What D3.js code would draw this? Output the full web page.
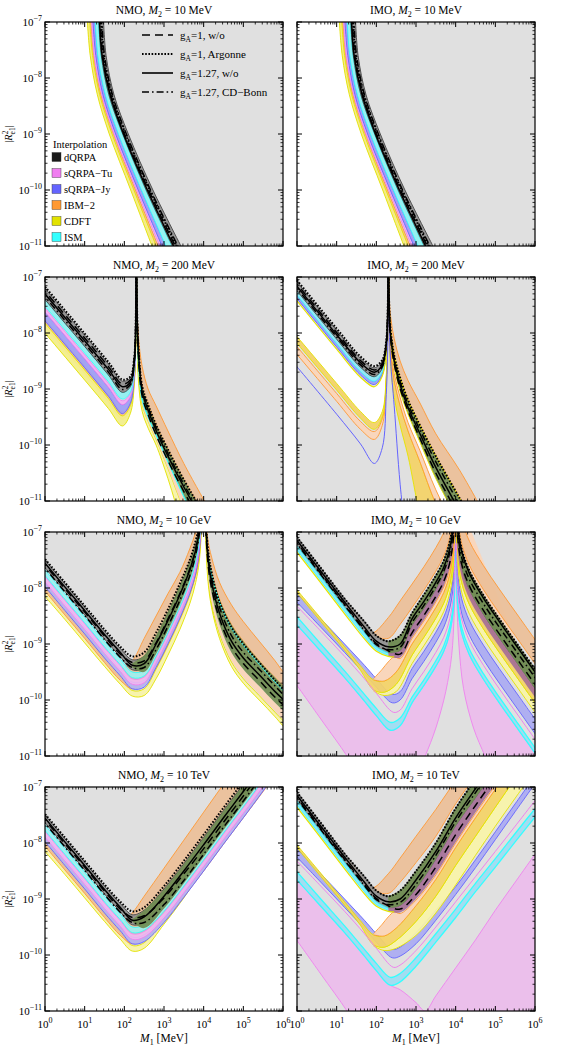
<!DOCTYPE html>
<html><head><meta charset="utf-8">
<script src="https://cdn.jsdelivr.net/npm/d3@7"></script>
<style>body{margin:0;background:#fff}svg{display:block;font-family:"Liberation Serif","DejaVu Serif",serif}</style>
</head><body><script>
// ---------------- DATA (x = log10 M1/MeV, y = log10 |R^2_e1|) ----------------
const orderings = ['NMO','IMO'];
const massLabels = ['10 MeV','200 MeV','10 GeV','10 TeV'];
const xTickExp = [0,1,2,3,4,5,6];
const yTickExp = [-7,-8,-9,-10,-11];
const models = ['dQRPA','sQRPA\u2212Tu','sQRPA\u2212Jy','IBM\u22122','CDFT','ISM'];
const modelColors = ['#1a1a1a','#f07ef0','#6464ff','#ff9933','#e2e200','#33ffff'];
const legendStyles = ['dash','dot','solid','dashdot'];
const legendGA = ['1','1','1.27','1.27'];
const legendSRC = ['w/o','Argonne','w/o','CD\u2212Bonn'];

// Panel M2 = 10 MeV (curves given as x at fixed y levels)
const p1_y = [-6.9,-7.6,-8.3,-9.0,-10.0,-11.1];
const p1_cdftLo = [1.06,1.14,1.32,1.62,2.16,2.75];
const p1_cdftHi = [1.12,1.20,1.38,1.69,2.24,2.86];
const p1_ibmLo = [1.08,1.16,1.35,1.65,2.19,2.80];
const p1_ibmHi = [1.15,1.23,1.41,1.73,2.28,2.91];
const p1_tuLo = [1.17,1.24,1.43,1.74,2.31,2.95];
const p1_tuHi = [1.22,1.30,1.49,1.81,2.38,3.05];
const p1_jyLo = [1.20,1.28,1.46,1.78,2.35,3.01];
const p1_jyHi = [1.26,1.33,1.52,1.85,2.43,3.11];
const p1_ismLo = [1.26,1.33,1.52,1.85,2.43,3.11];
const p1_ismHi = [1.34,1.41,1.61,1.95,2.54,3.26];
const p1_dqLo = [1.35,1.42,1.61,1.96,2.55,3.28];
const p1_dqHi = [1.47,1.54,1.74,2.10,2.72,3.50];
const p1_solid = [1.37,1.44,1.64,1.98,2.58,3.31];
const p1_dash = [1.39,1.46,1.66,2.00,2.61,3.35];
const p1_dot = [1.41,1.48,1.68,2.03,2.64,3.39];
const p1_dashdot = [1.43,1.50,1.70,2.05,2.66,3.42];

// NMO, M2 = 200 MeV
const p3_xL = [-0.1,1.0,1.6,1.95,2.15,2.25,2.29,2.305];
const p3_dqHi = [-7.12,-8.04,-8.55,-8.86,-8.8,-8.45,-7.7,-6.0];
const p3_dqLo = [-7.32,-8.24,-8.75,-9.06,-8.96,-8.57,-7.77,-6.0];
const p3_ismLo = [-7.44,-8.36,-8.87,-9.18,-9.06,-8.64,-7.81,-6.0];
const p3_tuHi = [-7.47,-8.39,-8.9,-9.21,-9.08,-8.66,-7.82,-6.0];
const p3_tuLo = [-7.54,-8.46,-8.97,-9.28,-9.14,-8.7,-7.85,-6.0];
const p3_jyLo = [-7.7,-8.62,-9.13,-9.44,-9.26,-8.8,-7.9,-6.0];
const p3_ibmHi = [-7.67,-8.59,-9.1,-9.41,-9.24,-8.78,-7.89,-6.0];
const p3_ibmLo = [-7.8,-8.72,-9.23,-9.54,-9.34,-8.86,-7.94,-6.0];
const p3_cdftHi = [-7.74,-8.66,-9.17,-9.48,-9.3,-8.82,-7.92,-6.0];
const p3_cdftLo = [-7.92,-8.84,-9.35,-9.66,-9.44,-8.93,-7.98,-6.0];
const p3_solidL = [-7.22,-8.14,-8.65,-8.96,-8.88,-8.51,-7.74,-6.0];
const p3_dotL = [-7.09,-8.01,-8.52,-8.83,-8.78,-8.43,-7.69,-6.0];
const p3_dashL = [-7.17,-8.09,-8.6,-8.91,-8.84,-8.48,-7.72,-6.0];
const p3_dashdotL = [-7.27,-8.19,-8.7,-9.01,-8.92,-8.54,-7.75,-6.0];
const p3_xR = [2.305,2.32,2.36,2.45,2.6,2.8,3.1,3.5,4.1];
const p3_rA = [-6.0,-8.0,-8.9,-9.4,-9.7,-10.0,-10.6,-11.5,-12.5];
const p3_rB = [-6.0,-7.9,-8.75,-9.28,-9.58,-9.9,-10.42,-11.15,-12.1];
const p3_rC = [-6.0,-7.8,-8.6,-9.2,-9.5,-9.82,-10.3,-10.92,-11.8];
const p3_rD = [-6.0,-7.6,-8.4,-9.05,-9.38,-9.74,-10.2,-10.75,-11.5];
const p3_rE = [-6.0,-7.55,-8.3,-8.95,-9.28,-9.64,-10.08,-10.62,-11.35];
const p3_rF = [-6.0,-7.5,-8.1,-8.6,-9.0,-9.3,-9.75,-10.33,-11.1];
const p3_dashR = [-6.0,-7.68,-8.48,-9.13,-9.46,-9.82,-10.28,-10.83,-11.58];
const p3_dashdotR = [-6.0,-7.57,-8.35,-9.0,-9.33,-9.69,-10.15,-10.7,-11.45];

// IMO, M2 = 200 MeV
const p4_xL = [-0.1,1.0,1.6,1.95,2.15,2.25,2.29,2.305];
const p4_dqHi = [-7.0,-7.95,-8.45,-8.62,-8.5,-8.15,-7.5,-6.0];
const p4_dqLo = [-7.16,-8.11,-8.61,-8.78,-8.63,-8.25,-7.56,-6.0];
const p4_ismLo = [-7.24,-8.19,-8.69,-8.86,-8.69,-8.29,-7.58,-6.0];
const p4_jyLo = [-7.3,-8.25,-8.75,-8.92,-8.74,-8.33,-7.6,-6.0];
const p4_topY = [-7.34,-8.29,-8.79,-8.96,-8.77,-8.35,-7.62,-6.0];
const p4_dotL = [-6.97,-7.92,-8.42,-8.59,-8.48,-8.13,-7.49,-6.0];
const p4_solidL = [-7.08,-8.03,-8.53,-8.7,-8.57,-8.2,-7.53,-6.0];
const p4_dashL = [-7.04,-7.99,-8.49,-8.66,-8.54,-8.18,-7.52,-6.0];
const p4_dashdotL = [-7.12,-8.07,-8.57,-8.74,-8.6,-8.22,-7.55,-6.0];
const p4_cdftHi = [-7.98,-8.9,-9.4,-9.6,-9.4,-8.75,-7.9,-6.0];
const p4_cdftLo = [-8.1,-9.02,-9.52,-9.72,-9.5,-8.82,-7.94,-6.0];
const p4_ibmHi = [-8.16,-9.08,-9.58,-9.76,-9.53,-8.84,-7.95,-6.0];
const p4_ibmLo = [-8.3,-9.22,-9.72,-9.9,-9.65,-8.92,-7.99,-6.0];
const p4_jyLine = [-8.52,-9.45,-9.98,-10.33,-10.05,-9.1,-8.1,-6.0];
const p4_xR = [2.305,2.32,2.36,2.45,2.6,2.8,3.1,3.5,4.1,4.7];
const p4_rF = [-6.0,-7.2,-7.7,-8.1,-8.5,-8.85,-9.25,-9.8,-10.45,-11.2];
const p4_rE = [-6.0,-7.4,-7.95,-8.4,-8.8,-9.2,-9.65,-10.2,-10.95,-11.7];
const p4_rD = [-6.0,-7.55,-8.15,-8.6,-9.05,-9.45,-9.95,-10.6,-11.4,-12.2];
const p4_rW = [-6.0,-7.6,-8.25,-8.72,-9.15,-9.6,-10.1,-10.8,-11.65,-12.4];
const p4_rLO = [-6.0,-7.7,-8.35,-8.85,-9.3,-9.75,-10.3,-11.05,-11.9,-12.7];
const p4_rYL = [-6.0,-7.9,-8.6,-9.15,-9.65,-10.2,-11.25,-12.3,-13.3,-14.0];
const p4_solidR = [-6.0,-7.48,-8.05,-8.5,-8.93,-9.33,-9.8,-10.4,-11.18,-11.95];
const p4_dashR = [-6.0,-7.52,-8.1,-8.55,-8.99,-9.39,-9.88,-10.5,-11.29,-12.08];
const p4_dashdotR = [-6.0,-7.44,-8.0,-8.45,-8.87,-9.27,-9.73,-10.3,-11.07,-11.83];
const p4_jyR = [[2.305,-6.0],[2.32,-7.8],[2.36,-8.5],[2.45,-9.3],[2.6,-10.7],[2.8,-12.0]];

// NMO, M2 = 10 GeV
const p5_xL = [-0.1,0.5,1.0,1.5,1.9,2.2,2.5,2.8,3.1,3.4,3.65,3.8,3.9,3.99];
const p5_S = [-7.47,-7.98,-8.4,-8.83,-9.15,-9.38,-9.35,-9.0,-8.58,-8.12,-7.68,-7.32,-6.92,-6.0];
const p5_dqHi = [-7.42,-7.92,-8.34,-8.77,-9.08,-9.28,-9.22,-8.88,-8.45,-7.98,-7.55,-7.2,-6.85,-6.0];
const p5_dqLo = [-7.55,-8.06,-8.48,-8.91,-9.23,-9.46,-9.43,-9.08,-8.66,-8.2,-7.76,-7.4,-6.98,-6.0];
const p5_ismHi = [-7.59,-8.1,-8.52,-8.95,-9.27,-9.5,-9.47,-9.12,-8.7,-8.24,-7.8,-7.44,-7.02,-6.0];
const p5_ismLo = [-7.69,-8.2,-8.62,-9.05,-9.37,-9.6,-9.57,-9.22,-8.8,-8.34,-7.9,-7.54,-7.1,-6.0];
const p5_tuHi = [-7.71,-8.22,-8.64,-9.07,-9.39,-9.62,-9.59,-9.24,-8.82,-8.36,-7.92,-7.56,-7.12,-6.0];
const p5_tuLo = [-7.81,-8.32,-8.74,-9.17,-9.49,-9.72,-9.69,-9.34,-8.92,-8.46,-8.02,-7.66,-7.2,-6.0];
const p5_jyHi = [-7.77,-8.28,-8.7,-9.13,-9.45,-9.68,-9.65,-9.3,-8.88,-8.42,-7.98,-7.62,-7.18,-6.0];
const p5_jyLo = [-7.89,-8.4,-8.82,-9.25,-9.57,-9.8,-9.77,-9.42,-9.0,-8.54,-8.1,-7.74,-7.28,-6.0];
const p5_ibmHi = [-7.85,-8.36,-8.78,-9.21,-9.45,-9.3,-8.9,-8.5,-8.1,-7.72,-7.3,-7.0,-6.7,-6.0];
const p5_ibmLo = [-7.97,-8.48,-8.9,-9.33,-9.65,-9.8,-9.72,-9.42,-9.0,-8.55,-8.1,-7.76,-7.3,-6.0];
const p5_cdftHi = [-7.92,-8.43,-8.85,-9.28,-9.6,-9.83,-9.8,-9.45,-9.03,-8.57,-8.13,-7.77,-7.37,-6.0];
const p5_cdftLo = [-8.07,-8.56,-8.98,-9.4,-9.72,-9.93,-9.92,-9.62,-9.2,-8.74,-8.28,-7.9,-7.45,-6.0];
const p5_dot = [-7.4,-7.9,-8.32,-8.74,-9.05,-9.22,-9.15,-8.8,-8.38,-7.92,-7.5,-7.15,-6.8,-6.0];
const p5_dash = [-7.5,-8.01,-8.43,-8.86,-9.18,-9.33,-9.3,-8.98,-8.55,-8.1,-7.66,-7.3,-6.9,-6.0];
const p5_dashdot = [-7.56,-8.07,-8.49,-8.92,-9.24,-9.42,-9.42,-9.1,-8.68,-8.22,-7.78,-7.4,-6.96,-6.0];
const p5_xG = [2.2,2.5,2.8,3.1,3.4,3.65,3.8,3.9,3.99];
const p5_greenHi = [-9.34,-9.2,-8.85,-8.42,-7.95,-7.52,-7.18,-6.84,-6.0];
const p5_greenLo = [-9.42,-9.5,-9.18,-8.76,-8.3,-7.85,-7.48,-7.05,-6.0];
const p5_xR = [4.01,4.1,4.2,4.4,4.7,5.0,5.4,5.8,6.1];
const p5_ibmHiR = [-6.0,-7.1,-7.45,-7.9,-8.3,-8.6,-8.95,-9.3,-9.6];
const p5_ibmLoR = [-6.0,-7.3,-7.7,-8.2,-8.65,-8.95,-9.3,-9.6,-9.82];
const p5_greenLoR = [-6.0,-7.6,-8.1,-8.65,-9.15,-9.45,-9.75,-10.05,-10.25];
const p5_lightLoR = [-6.0,-7.7,-8.25,-8.8,-9.3,-9.6,-9.9,-10.2,-10.42];
const p5_cdftHiR = [-6.0,-7.72,-8.28,-8.82,-9.32,-9.62,-9.92,-10.22,-10.44];
const p5_cdftLoR = [-6.0,-7.8,-8.35,-8.9,-9.4,-9.7,-10.0,-10.3,-10.55];
const p5_solidR = [-6.0,-7.4,-7.9,-8.45,-8.95,-9.25,-9.55,-9.85,-10.05];
const p5_dotR = [-6.0,-7.25,-7.72,-8.25,-8.7,-9.0,-9.33,-9.65,-9.88];
const p5_dashR = [-6.0,-7.5,-8.0,-8.55,-9.05,-9.35,-9.65,-9.95,-10.15];
const p5_dashdotR = [-6.0,-7.35,-7.82,-8.35,-8.85,-9.15,-9.45,-9.75,-9.97];
const p5_ismR = [-6.0,-7.32,-7.75,-8.25,-8.72,-9.02,-9.36,-9.68,-9.9];

// NMO, M2 = 10 TeV
const p7_x = [-0.1,0.5,1.0,1.5,1.9,2.2,2.5,3.0,3.5,4.0,4.5,5.0,5.5,6.1];
const p7_S = [-7.47,-7.98,-8.4,-8.83,-9.15,-9.38,-9.32,-8.95,-8.5,-8.03,-7.55,-7.08,-6.6,-6.0];
const p7_dqHi = [-7.42,-7.92,-8.34,-8.77,-9.08,-9.28,-9.2,-8.82,-8.37,-7.9,-7.42,-6.95,-6.47,-5.87];
const p7_dqLo = [-7.55,-8.06,-8.48,-8.91,-9.23,-9.46,-9.42,-9.08,-8.63,-8.16,-7.68,-7.21,-6.73,-6.13];
const p7_ismHi = [-7.59,-8.1,-8.52,-8.95,-9.27,-9.5,-9.46,-9.12,-8.67,-8.2,-7.72,-7.25,-6.77,-6.17];
const p7_ismLo = [-7.69,-8.2,-8.62,-9.05,-9.37,-9.6,-9.56,-9.22,-8.77,-8.3,-7.82,-7.35,-6.87,-6.27];
const p7_tuHi = [-7.71,-8.22,-8.64,-9.07,-9.39,-9.62,-9.58,-9.24,-8.79,-8.32,-7.84,-7.37,-6.89,-6.29];
const p7_tuLo = [-7.81,-8.32,-8.74,-9.17,-9.49,-9.72,-9.68,-9.34,-8.89,-8.42,-7.94,-7.47,-6.99,-6.39];
const p7_jyHi = [-7.77,-8.28,-8.7,-9.13,-9.45,-9.68,-9.64,-9.3,-8.85,-8.38,-7.9,-7.43,-6.95,-6.35];
const p7_jyLo = [-7.89,-8.4,-8.82,-9.25,-9.57,-9.8,-9.76,-9.42,-8.97,-8.5,-8.02,-7.55,-7.07,-6.47];
const p7_ibmHi = [-7.85,-8.36,-8.78,-9.21,-9.45,-9.25,-8.95,-8.45,-7.95,-7.45,-6.95,-6.45,-5.95,-5.35];
const p7_ibmLo = [-7.97,-8.48,-8.9,-9.33,-9.65,-9.8,-9.72,-9.4,-8.96,-8.5,-8.02,-7.55,-7.08,-6.5];
const p7_cdftHi = [-7.92,-8.43,-8.85,-9.28,-9.6,-9.83,-9.78,-9.33,-8.86,-8.33,-7.83,-7.33,-6.8,-6.18];
const p7_cdftLo = [-8.07,-8.56,-8.98,-9.4,-9.72,-9.93,-9.88,-9.45,-8.98,-8.45,-7.95,-7.45,-6.92,-6.3];
const p7_dot = [-7.4,-7.9,-8.32,-8.74,-9.05,-9.22,-9.15,-8.77,-8.32,-7.85,-7.37,-6.9,-6.42,-5.82];
const p7_dash = [-7.5,-8.01,-8.43,-8.86,-9.18,-9.33,-9.3,-8.98,-8.55,-8.1,-7.63,-7.16,-6.68,-6.08];
const p7_dashdot = [-7.56,-8.07,-8.49,-8.92,-9.24,-9.42,-9.42,-9.1,-8.67,-8.2,-7.72,-7.25,-6.77,-6.17];
const p7_greenHi = [[2.2,-9.36],[2.5,-9.2],[3.0,-8.83],[3.5,-8.38],[4.0,-7.91],[4.5,-7.43],[5.0,-6.96],[5.5,-6.48],[6.1,-5.88]];
const p7_greenLo = [[2.2,-9.4],[2.5,-9.52],[3.0,-9.17],[3.5,-8.72],[4.0,-8.25],[4.5,-7.77],[5.0,-7.3],[5.5,-6.82],[6.1,-6.22]];

// IMO, M2 = 10 GeV  ([x, y] pairs)
const p6_dqHi = [[-0.1,-7.0],[0.6,-7.64],[1.2,-8.19],[1.7,-8.6],[2.0,-8.85],[2.3,-8.95],[2.6,-8.85],[2.9,-8.45],[3.2,-8.12],[3.5,-7.78],[3.7,-7.51],[3.85,-7.18],[3.95,-6.7],[3.995,-5.9],[4.005,-5.95],[4.05,-6.81],[4.15,-7.3],[4.35,-7.7],[4.7,-8.13],[5.1,-8.55],[5.6,-9.05],[6.1,-9.55]];
const p6_dqLo = [[-0.1,-7.16],[0.6,-7.8],[1.2,-8.35],[1.7,-8.8],[2.0,-9.05],[2.3,-9.16],[2.6,-9.12],[2.9,-8.68],[3.2,-8.37],[3.5,-8.03],[3.7,-7.76],[3.85,-7.43],[3.95,-6.95],[3.995,-6.08],[4.005,-6.3],[4.05,-7.16],[4.15,-7.65],[4.35,-8.05],[4.7,-8.48],[5.1,-8.9],[5.6,-9.4],[6.1,-9.9]];
const p6_ismTopHi = [[-0.1,-7.16],[0.6,-7.8],[1.2,-8.35],[1.7,-8.8],[2.0,-9.05],[2.3,-9.16]];
const p6_ismTopLo = [[-0.1,-7.23],[0.6,-7.87],[1.2,-8.42],[1.7,-8.87],[2.0,-9.1],[2.3,-9.2]];
const p6_topY = [[-0.1,-7.27],[0.6,-7.91],[1.2,-8.46],[1.7,-8.91],[2.0,-9.13],[2.3,-9.22],[2.45,-9.23]];
const p6_mauveLo = [[2.3,-9.22],[2.6,-9.24],[2.9,-8.88],[3.2,-8.57],[3.5,-8.23],[3.7,-7.96],[3.85,-7.63],[3.95,-7.15],[3.995,-6.28],[4.005,-6.45],[4.05,-7.31],[4.15,-7.8],[4.35,-8.2],[4.7,-8.63],[5.1,-9.05],[5.6,-9.55],[6.1,-10.05]];
const p6_ibmHi = [[1.3,-8.3],[1.7,-8.66],[1.9,-8.8],[2.3,-8.53],[2.6,-8.23],[2.9,-7.93],[3.2,-7.62],[3.5,-7.28],[3.7,-7.01],[3.85,-6.68],[3.95,-6.2],[3.995,-5.4],[4.005,-5.42],[4.05,-6.28],[4.15,-6.77],[4.35,-7.17],[4.7,-7.6],[5.1,-8.02],[5.6,-8.52],[6.1,-9.02]];
const p6_ibmLo = [[1.3,-8.32],[1.7,-8.7],[1.9,-8.84],[2.3,-8.9],[2.6,-8.65],[2.9,-8.35],[3.2,-8.04],[3.5,-7.7],[3.7,-7.43],[3.85,-7.1],[3.95,-6.62],[3.995,-5.75],[4.005,-5.85],[4.05,-6.71],[4.15,-7.2],[4.35,-7.6],[4.7,-8.03],[5.1,-8.45],[5.6,-8.95],[6.1,-9.45]];
const p6_loHi = [[1.93,-9.62],[2.15,-9.45],[2.3,-9.32],[2.45,-9.23],[2.6,-9.26],[2.9,-8.9],[3.2,-8.59],[3.5,-8.25],[3.7,-7.98],[3.85,-7.65],[3.95,-7.17],[3.995,-6.3]];
const p6_cdftHi = [[-0.1,-7.95],[0.6,-8.54],[1.2,-9.05],[1.6,-9.39],[1.93,-9.64],[2.2,-9.66],[2.5,-9.5],[2.9,-9.0],[3.2,-8.69],[3.5,-8.35],[3.7,-8.08],[3.85,-7.75],[3.95,-7.27],[3.995,-6.4],[4.005,-6.35],[4.05,-7.21],[4.15,-7.7],[4.35,-8.1],[4.7,-8.53],[5.1,-8.95],[5.6,-9.45],[6.1,-9.95]];
const p6_cdftLo = [[-0.1,-8.0],[0.6,-8.6],[1.2,-9.11],[1.6,-9.47],[1.93,-9.82],[2.2,-9.86],[2.5,-9.72],[2.9,-9.2],[3.2,-8.88],[3.5,-8.54],[3.7,-8.27],[3.85,-7.94],[3.95,-7.46],[3.995,-6.59],[4.005,-6.55],[4.05,-7.41],[4.15,-7.9],[4.35,-8.3],[4.7,-8.73],[5.1,-9.15],[5.6,-9.65],[6.1,-10.15]];
const p6_paleLo = [[1.93,-9.84],[2.2,-9.92],[2.5,-9.85],[2.9,-9.35],[3.2,-9.03],[3.5,-8.69],[3.7,-8.42],[3.85,-8.09],[3.95,-7.61],[3.995,-6.74],[4.005,-6.72],[4.05,-7.58],[4.15,-8.07],[4.35,-8.47],[4.7,-8.9],[5.1,-9.32],[5.6,-9.82],[6.1,-10.32]];
const p6_jyHi = [[-0.1,-8.03],[0.6,-8.55],[1.2,-9.0],[1.7,-9.38],[2.0,-9.62],[2.4,-9.9],[2.6,-9.85],[2.9,-9.44],[3.2,-9.13],[3.5,-8.79],[3.7,-8.52],[3.85,-8.19],[3.95,-7.71],[3.995,-6.84],[4.005,-6.84],[4.05,-7.7],[4.15,-8.19],[4.35,-8.59],[4.7,-9.02],[5.1,-9.44],[5.6,-9.94],[6.1,-10.44]];
const p6_jyLo = [[-0.1,-8.18],[0.6,-8.7],[1.2,-9.15],[1.7,-9.53],[2.0,-9.77],[2.4,-10.05],[2.6,-10.0],[2.9,-9.62],[3.2,-9.31],[3.5,-8.97],[3.7,-8.7],[3.85,-8.37],[3.95,-7.89],[3.995,-7.02],[4.005,-7.1],[4.05,-7.96],[4.15,-8.45],[4.35,-8.85],[4.7,-9.28],[5.1,-9.7],[5.6,-10.2],[6.1,-10.7]];
const p6_tuU = [[-0.1,-8.25],[0.6,-8.77],[1.2,-9.22],[1.7,-9.62],[2.0,-9.88],[2.43,-10.22],[2.6,-10.18],[2.9,-9.8],[3.2,-9.49],[3.5,-9.15],[3.7,-8.88],[3.85,-8.55],[3.95,-8.07],[3.995,-7.2],[4.005,-7.2],[4.05,-8.06],[4.15,-8.55],[4.35,-8.95],[4.7,-9.38],[5.1,-9.8],[5.6,-10.3],[6.1,-10.8]];
const p6_ismHi = [[-0.1,-8.43],[0.6,-9.0],[1.2,-9.48],[1.7,-9.9],[2.0,-10.15],[2.35,-10.4],[2.6,-10.32],[2.9,-9.95],[3.2,-9.64],[3.5,-9.3],[3.7,-9.03],[3.85,-8.7],[3.95,-8.22],[3.995,-7.35],[4.005,-7.35],[4.05,-8.21],[4.15,-8.7],[4.35,-9.1],[4.7,-9.53],[5.1,-9.95],[5.6,-10.45],[6.1,-10.95]];
const p6_ismLo = [[-0.1,-8.58],[0.6,-9.13],[1.2,-9.6],[1.7,-10.02],[2.0,-10.28],[2.35,-10.54],[2.6,-10.46],[2.9,-10.05],[3.2,-9.74],[3.5,-9.4],[3.7,-9.13],[3.85,-8.8],[3.95,-8.32],[3.995,-7.45],[4.005,-7.45],[4.05,-8.31],[4.15,-8.8],[4.35,-9.2],[4.7,-9.63],[5.1,-10.05],[5.6,-10.55],[6.1,-11.05]];
const p6_tuL = [[-0.1,-9.64],[0.6,-10.34],[1.26,-11.0],[1.6,-11.4],[2.2,-11.8],[2.9,-11.5],[3.23,-11.0],[3.5,-10.5],[3.75,-9.85],[3.9,-9.2],[3.96,-8.5],[3.99,-7.7],[3.998,-7.0],[4.005,-7.0],[4.03,-8.2],[4.08,-9.0],[4.2,-9.8],[4.45,-10.5],[4.74,-11.0],[5.0,-11.4],[6.1,-12.5]];
const p6_solid = [[-0.1,-7.06],[0.6,-7.7],[1.2,-8.25],[1.7,-8.7],[2.0,-8.95],[2.3,-9.05],[2.6,-9.0],[2.9,-8.55],[3.2,-8.24],[3.5,-7.9],[3.7,-7.63],[3.85,-7.3],[3.95,-6.82],[3.995,-5.95],[4.005,-6.0],[4.05,-6.86],[4.15,-7.35],[4.35,-7.75],[4.7,-8.18],[5.1,-8.6],[5.6,-9.1],[6.1,-9.6]];
const p6_dash = [[-0.1,-7.1],[0.6,-7.74],[1.2,-8.29],[1.7,-8.74],[2.0,-8.99],[2.3,-9.12],[2.6,-9.18],[2.9,-8.8],[3.2,-8.49],[3.5,-8.15],[3.7,-7.88],[3.85,-7.55],[3.95,-7.07],[3.995,-6.2],[4.005,-6.22],[4.05,-7.08],[4.15,-7.57],[4.35,-7.97],[4.7,-8.4],[5.1,-8.82],[5.6,-9.32],[6.1,-9.82]];
const p6_dashdot = [[-0.1,-7.12],[0.6,-7.76],[1.2,-8.31],[1.7,-8.76],[2.0,-9.01],[2.3,-9.1],[2.6,-9.06],[2.9,-8.62],[3.2,-8.31],[3.5,-7.97],[3.7,-7.7],[3.85,-7.37],[3.95,-6.89],[3.995,-6.02],[4.005,-6.1],[4.05,-6.96],[4.15,-7.45],[4.35,-7.85],[4.7,-8.28],[5.1,-8.7],[5.6,-9.2],[6.1,-9.7]];

// IMO, M2 = 10 TeV
const p8_dqHi = [[-0.1,-7.0],[0.6,-7.64],[1.2,-8.19],[1.7,-8.6],[2.0,-8.85],[2.3,-8.95],[2.6,-8.85],[3.0,-8.5],[3.5,-8.0],[4.0,-7.38],[4.5,-6.86],[5.0,-6.36],[5.5,-5.86]];
const p8_dqLo = [[-0.1,-7.16],[0.6,-7.8],[1.2,-8.35],[1.7,-8.8],[2.0,-9.05],[2.3,-9.16],[2.6,-9.12],[3.0,-8.82],[3.5,-8.3],[4.0,-7.7],[4.5,-7.2],[5.0,-6.7],[5.5,-6.2]];
const p8_mauveLo = [[2.3,-9.22],[2.6,-9.24],[3.0,-9.0],[3.5,-8.55],[4.0,-7.98],[4.5,-7.45],[5.0,-6.95],[5.5,-6.45]];
const p8_ibmHi = [[1.3,-8.3],[1.7,-8.66],[1.9,-8.8],[2.3,-8.55],[2.6,-8.27],[3.0,-7.88],[3.5,-7.4],[4.0,-6.88],[4.5,-6.38]];
const p8_ibmLo = [[1.3,-8.32],[1.7,-8.7],[1.9,-8.84],[2.3,-8.9],[2.6,-8.7],[3.0,-8.35],[3.5,-7.88],[4.0,-7.3],[4.5,-6.8],[5.0,-6.3]];
const p8_loHi = [[1.93,-9.62],[2.15,-9.45],[2.3,-9.32],[2.45,-9.23],[2.6,-9.26],[3.0,-9.02],[3.5,-8.57],[4.0,-8.0],[4.5,-7.47],[5.0,-6.97],[5.5,-6.47]];
const p8_cdftHi = [[-0.1,-7.95],[0.6,-8.54],[1.2,-9.05],[1.6,-9.39],[1.93,-9.64],[2.2,-9.66],[2.5,-9.52],[3.0,-9.12],[3.5,-8.65],[4.0,-8.08],[4.5,-7.55],[5.0,-7.04],[5.5,-6.54],[6.1,-5.94]];
const p8_cdftLo = [[-0.1,-8.0],[0.6,-8.6],[1.2,-9.11],[1.6,-9.47],[1.93,-9.82],[2.2,-9.86],[2.5,-9.74],[3.0,-9.4],[3.5,-8.95],[4.0,-8.4],[4.5,-7.88],[5.0,-7.36],[5.5,-6.85],[6.1,-6.25]];
const p8_paleLo = [[1.93,-9.84],[2.2,-9.92],[2.5,-9.88],[3.0,-9.65],[3.5,-9.25],[4.0,-8.75],[4.5,-8.22],[5.0,-7.7],[5.5,-7.2],[6.1,-6.6]];
const p8_jyHi = [[-0.1,-8.03],[0.6,-8.55],[1.2,-9.0],[1.7,-9.38],[2.0,-9.62],[2.4,-9.9],[2.6,-9.86],[3.0,-9.6],[3.5,-9.2],[4.0,-8.78],[4.5,-8.3],[5.0,-7.8],[5.5,-7.3],[6.1,-6.7]];
const p8_jyLo = [[-0.1,-8.18],[0.6,-8.7],[1.2,-9.15],[1.7,-9.53],[2.0,-9.77],[2.4,-10.05],[2.6,-10.02],[3.0,-9.8],[3.5,-9.38],[4.0,-8.92],[4.5,-8.44],[5.0,-7.94],[5.5,-7.44],[6.1,-6.84]];
const p8_tuU = [[-0.1,-8.25],[0.6,-8.77],[1.2,-9.22],[1.7,-9.62],[2.0,-9.88],[2.43,-10.22],[2.6,-10.18],[3.0,-9.92],[3.5,-9.5],[4.0,-9.05],[4.5,-8.6],[5.0,-8.15],[5.5,-7.7],[6.1,-7.15]];
const p8_ismHi = [[-0.1,-8.43],[0.6,-9.0],[1.2,-9.48],[1.7,-9.9],[2.0,-10.15],[2.35,-10.4],[2.6,-10.33],[3.0,-10.05],[3.5,-9.62],[4.0,-9.18],[4.5,-8.72],[5.0,-8.28],[5.5,-7.83],[6.1,-7.3]];
const p8_ismLo = [[-0.1,-8.58],[0.6,-9.13],[1.2,-9.6],[1.7,-10.02],[2.0,-10.28],[2.35,-10.54],[2.6,-10.48],[3.0,-10.2],[3.5,-9.77],[4.0,-9.33],[4.5,-8.87],[5.0,-8.43],[5.5,-7.98],[6.1,-7.45]];
const p8_tuTop = [[-0.1,-8.58],[0.6,-9.13],[1.2,-9.6],[1.7,-10.02],[2.0,-10.28],[2.35,-10.54],[2.6,-10.62],[3.0,-10.85],[3.23,-11.0],[3.5,-10.73],[4.0,-10.23],[4.5,-9.73],[5.0,-9.2],[5.54,-8.66],[6.1,-8.1]];
const p8_tuBot = [[-0.1,-9.64],[0.6,-10.34],[1.26,-11.0],[1.6,-11.4],[2.5,-11.6],[6.1,-11.6]];
const p8_solid = [[-0.1,-7.06],[0.6,-7.7],[1.2,-8.25],[1.7,-8.7],[2.0,-8.95],[2.3,-9.05],[2.6,-9.0],[3.0,-8.66],[3.5,-8.15],[4.0,-7.55],[4.5,-7.03],[5.0,-6.53],[5.5,-6.03]];
const p8_dash = [[-0.1,-7.1],[0.6,-7.74],[1.2,-8.29],[1.7,-8.74],[2.0,-8.99],[2.3,-9.12],[2.6,-9.18],[3.0,-8.92],[3.5,-8.43],[4.0,-7.85],[4.5,-7.33],[5.0,-6.83],[5.5,-6.33]];
const p8_dashdot = [[-0.1,-7.12],[0.6,-7.76],[1.2,-8.31],[1.7,-8.76],[2.0,-9.01],[2.3,-9.1],[2.6,-9.06],[3.0,-8.74],[3.5,-8.22],[4.0,-7.62],[4.5,-7.1],[5.0,-6.6],[5.5,-6.1]];

// ---------------- RENDERING ----------------
const W=581,H=1046, colX=[45,297], rowY=[22,277,532,787], pw=238, ph=224;
const svg=d3.select('body').append('svg').attr('width',W).attr('height',H);
const xS=d3.scaleLog().domain([1,1e6]).range([0,pw]);
const yS=d3.scaleLog().domain([1e-11,1e-7]).range([ph,0]);
const lineGen=d3.line().x(p=>xS(Math.pow(10,p[0]))).y(p=>yS(Math.pow(10,p[1]))).curve(d3.curveCatmullRom.alpha(0.5));
const band=(hi,lo)=>lineGen(hi)+lineGen(lo.slice().reverse()).replace(/^M/,'L')+'Z';
const XY=(xs,ys)=>xs.map((v,i)=>[v,ys[i]]);
const dashes={solid:null,dash:'8,5',dot:'1.6,1.6',dashdot:'7,3,1.6,3'};
const F={dq:'#8e8e8e',green:'#6f8c50',mauve:'#a56f97',ism:'#9cdcf2',jy:'#aaaaf2',tu:'#ecbcec',ibm:'#ecbf98',ibmL:'#fbd5b8',gold:'#f4d266',pale:'#f8f4a8',cdft:'#f4f08a'};
const E={dq:'#333',ism:'#33ffff',jy:'#6464ff',tu:'#ee82ee',ibm:'#ff9933',cdft:'#e4e400'};
const farL=[[-1,-6.8],[-1,-11.3]];
const floor=[[-0.6,-14],[6.6,-14]];

function Lstyle(p,s){return {p:p,s:s};}
const p1Bands=[
 {hi:XY(p1_ibmHi,p1_y),lo:XY(p1_ibmLo,p1_y),f:'#f6bd86',e:E.ibm},
 {hi:XY(p1_cdftHi,p1_y),lo:XY(p1_cdftLo,p1_y),f:F.cdft,e:E.cdft},
 {hi:XY(p1_tuHi,p1_y),lo:XY(p1_tuLo,p1_y),f:'#f2aef2',e:E.tu},
 {hi:XY(p1_jyHi,p1_y),lo:XY(p1_jyLo,p1_y),f:'#9d9df5',e:E.jy},
 {hi:XY(p1_ismHi,p1_y),lo:XY(p1_ismLo,p1_y),f:'#8ff2f2',e:E.ism},
 {hi:XY(p1_dqHi,p1_y),lo:XY(p1_dqLo,p1_y),f:F.dq,e:'#444'}];
const p1Lines=[Lstyle(XY(p1_solid,p1_y),'solid'),Lstyle(XY(p1_dash,p1_y),'dash'),Lstyle(XY(p1_dot,p1_y),'dot'),Lstyle(XY(p1_dashdot,p1_y),'dashdot')];

const L3=a=>XY(p3_xL,a), R3=a=>XY(p3_xR,a);
const L4=a=>XY(p4_xL,a), R4=a=>XY(p4_xR,a);
const L5=a=>XY(p5_xL,a), R5=a=>XY(p5_xR,a);
const L7=a=>XY(p7_x,a);

const panels=[
 {col:0,row:0,white:[[XY(p1_cdftLo,p1_y),farL]],bands:p1Bands,lines:p1Lines},
 {col:1,row:0,white:[[XY(p1_cdftLo,p1_y),farL]],bands:p1Bands,lines:p1Lines},
 {col:0,row:1,white:[[L3(p3_cdftLo).concat(R3(p3_rA).slice(1)),floor]],
  bands:[
   {hi:L3(p3_ibmHi),lo:L3(p3_ibmLo),f:'#f6bd86',e:E.ibm},
   {hi:L3(p3_cdftHi),lo:L3(p3_cdftLo),f:F.cdft,e:E.cdft},
   {hi:L3(p3_tuLo),lo:L3(p3_jyLo),f:'#9d9df5',e:E.jy},
   {hi:L3(p3_tuHi),lo:L3(p3_tuLo),f:'#f2aef2',e:E.tu},
   {hi:L3(p3_dqLo),lo:L3(p3_ismLo),f:'#8ff2f2',e:E.ism},
   {hi:L3(p3_dqHi),lo:L3(p3_dqLo),f:F.dq,e:'#444'},
   {hi:R3(p3_rB),lo:R3(p3_rA),f:F.pale,e:E.cdft},
   {hi:R3(p3_rC),lo:R3(p3_rB),f:F.ibmL,e:null},
   {hi:R3(p3_rF),lo:R3(p3_rE),f:F.ibm,e:E.ibm},
   {hi:R3(p3_rE),lo:R3(p3_rC),f:F.green,e:null}],
  strokes:[{p:R3(p3_rC),c:E.ism,w:1.2}],
  lines:[Lstyle(L3(p3_solidL),'solid'),Lstyle(L3(p3_dotL),'dot'),Lstyle(L3(p3_dashL),'dash'),Lstyle(L3(p3_dashdotL),'dashdot'),
   Lstyle(R3(p3_rD),'solid'),Lstyle(R3(p3_rE),'dot'),Lstyle(R3(p3_dashR),'dash'),Lstyle(R3(p3_dashdotR),'dashdot')]},
 {col:1,row:1,white:[[L4(p4_topY),L4(p4_cdftHi)],[R4(p4_rD),R4(p4_rW)]],
  bands:[
   {hi:L4(p4_ibmHi),lo:L4(p4_ibmLo),f:F.ibmL,e:E.ibm},
   {hi:L4(p4_cdftHi),lo:L4(p4_cdftLo),f:F.gold,e:E.cdft},
   {hi:L4(p4_ismLo),lo:L4(p4_jyLo),f:'#9d9df5',e:E.jy},
   {hi:L4(p4_dqLo),lo:L4(p4_ismLo),f:'#8fe6f6',e:E.ism},
   {hi:L4(p4_dqHi),lo:L4(p4_dqLo),f:F.dq,e:'#444'},
   {hi:R4(p4_rLO),lo:R4(p4_rYL),f:F.gold,e:E.cdft},
   {hi:R4(p4_rW),lo:R4(p4_rLO),f:F.ibmL,e:E.ibm},
   {hi:R4(p4_rF),lo:R4(p4_rE),f:F.ibm,e:E.ibm},
   {hi:R4(p4_rE),lo:R4(p4_rD),f:F.green,e:E.cdft}],
  strokes:[{p:L4(p4_topY),c:E.cdft,w:1.2},{p:L4(p4_jyLine),c:E.jy,w:1},{p:p4_jyR,c:E.jy,w:1}],
  lines:[Lstyle(L4(p4_solidL),'solid'),Lstyle(L4(p4_dotL),'dot'),Lstyle(L4(p4_dashL),'dash'),Lstyle(L4(p4_dashdotL),'dashdot'),
   Lstyle(R4(p4_solidR),'solid'),Lstyle(R4(p4_rE),'dot'),Lstyle(R4(p4_dashR),'dash'),Lstyle(R4(p4_dashdotR),'dashdot')]},
 {col:0,row:2,white:[[L5(p5_cdftLo).concat(R5(p5_cdftLoR)),floor]],
  bands:[
   {hi:L5(p5_cdftHi),lo:L5(p5_cdftLo),f:F.pale,e:E.cdft},
   {hi:L5(p5_ibmHi),lo:L5(p5_ibmLo),f:F.ibm,e:E.ibm},
   {hi:L5(p5_jyHi),lo:L5(p5_jyLo),f:'#b4b4f4',e:E.jy},
   {hi:L5(p5_tuHi),lo:L5(p5_tuLo),f:'#f0b8f0',e:E.tu},
   {hi:L5(p5_ismHi),lo:L5(p5_ismLo),f:'#9ef0f0',e:E.ism},
   {hi:L5(p5_dqHi),lo:L5(p5_dqLo),f:F.dq,e:'#444'},
   {hi:XY(p5_xG,p5_greenHi),lo:XY(p5_xG,p5_greenLo),f:F.green,e:null},
   {hi:R5(p5_cdftHiR),lo:R5(p5_cdftLoR),f:F.pale,e:E.cdft},
   {hi:R5(p5_greenLoR),lo:R5(p5_lightLoR),f:F.ibmL,e:null},
   {hi:R5(p5_ibmHiR),lo:R5(p5_ibmLoR),f:F.ibm,e:E.ibm},
   {hi:R5(p5_ibmLoR),lo:R5(p5_greenLoR),f:F.green,e:null}],
  strokes:[{p:R5(p5_ismR),c:E.ism,w:1}],
  lines:[Lstyle(L5(p5_S),'solid'),Lstyle(L5(p5_dot),'dot'),Lstyle(L5(p5_dash),'dash'),Lstyle(L5(p5_dashdot),'dashdot'),
   Lstyle(R5(p5_solidR),'solid'),Lstyle(R5(p5_dotR),'dot'),Lstyle(R5(p5_dashR),'dash'),Lstyle(R5(p5_dashdotR),'dashdot')]},
 {col:1,row:2,white:[[p6_topY,p6_cdftHi.slice(0,5)]],
  bands:[
   {hi:p6_ismLo,lo:p6_tuL,f:F.tu,e:E.tu},
   {hi:p6_ismHi,lo:p6_ismLo,f:F.ism,e:E.ism,w:1.3},
   {hi:p6_jyHi,lo:p6_jyLo,f:F.jy,e:E.jy},
   {hi:p6_cdftLo.slice(4),lo:p6_paleLo,f:F.pale,e:E.cdft},
   {hi:p6_cdftHi,lo:p6_cdftLo,f:F.gold,e:E.cdft},
   {hi:p6_loHi,lo:p6_cdftHi.slice(4),f:F.ibmL,e:E.ibm},
   {hi:p6_ibmHi,lo:p6_ibmLo,f:F.ibm,e:E.ibm},
   {hi:p6_dqHi,lo:p6_dqLo,f:F.dq,e:'#444'},
   {hi:p6_dqHi.slice(5),lo:p6_dqLo.slice(5),f:F.green,e:null},
   {hi:p6_dqLo.slice(5),lo:p6_mauveLo,f:F.mauve,e:null},
   {hi:p6_ismTopHi,lo:p6_ismTopLo,f:'#7fe8ff',e:E.ism}],
  strokes:[{p:p6_tuU,c:E.tu,w:1},{p:p6_topY,c:E.cdft,w:1.2}],
  lines:[Lstyle(p6_dqHi,'dot'),Lstyle(p6_solid,'solid'),Lstyle(p6_dash,'dash'),Lstyle(p6_dashdot,'dashdot')]},
 {col:0,row:3,white:[[L7(p7_cdftLo),floor]],
  bands:[
   {hi:L7(p7_cdftHi),lo:L7(p7_cdftLo),f:F.pale,e:E.cdft},
   {hi:L7(p7_ibmHi),lo:L7(p7_ibmLo),f:F.ibm,e:E.ibm},
   {hi:L7(p7_jyHi),lo:L7(p7_jyLo),f:'#b4b4f4',e:E.jy},
   {hi:L7(p7_tuHi),lo:L7(p7_tuLo),f:'#f0b8f0',e:E.tu},
   {hi:L7(p7_ismHi),lo:L7(p7_ismLo),f:'#9ef0f0',e:E.ism},
   {hi:L7(p7_dqHi),lo:L7(p7_dqLo),f:F.dq,e:'#444'},
   {hi:p7_greenHi,lo:p7_greenLo,f:F.green,e:null}],
  lines:[Lstyle(L7(p7_S),'solid'),Lstyle(L7(p7_dot),'dot'),Lstyle(L7(p7_dash),'dash'),Lstyle(L7(p7_dashdot),'dashdot')]},
 {col:1,row:3,white:[[p6_topY,p8_cdftHi.slice(0,5)]],
  bands:[
   {hi:p8_tuTop,lo:p8_tuBot,f:F.tu,e:E.tu},
   {hi:p8_ismHi,lo:p8_ismLo,f:F.ism,e:E.ism,w:1.3},
   {hi:p8_jyHi,lo:p8_jyLo,f:F.jy,e:E.jy},
   {hi:p8_cdftLo.slice(4),lo:p8_paleLo,f:F.pale,e:E.cdft},
   {hi:p8_cdftHi,lo:p8_cdftLo,f:F.gold,e:E.cdft},
   {hi:p8_loHi,lo:p8_cdftHi.slice(4),f:F.ibmL,e:E.ibm},
   {hi:p8_ibmHi,lo:p8_ibmLo,f:F.ibm,e:E.ibm},
   {hi:p8_dqHi,lo:p8_dqLo,f:F.dq,e:'#444'},
   {hi:p8_dqHi.slice(5),lo:p8_dqLo.slice(5),f:F.green,e:null},
   {hi:p8_dqLo.slice(5),lo:p8_mauveLo,f:F.mauve,e:null},
   {hi:p6_ismTopHi,lo:p6_ismTopLo,f:'#7fe8ff',e:E.ism}],
  strokes:[{p:p8_tuU,c:E.tu,w:1},{p:p6_topY,c:E.cdft,w:1.2}],
  lines:[Lstyle(p8_dqHi,'dot'),Lstyle(p8_solid,'solid'),Lstyle(p8_dash,'dash'),Lstyle(p8_dashdot,'dashdot')]}
];

function drawLine(c,l){
  c.append('path').attr('d',lineGen(l.p)).attr('fill','none').attr('stroke','#000')
   .attr('stroke-width',l.s==='dot'?2:1.5).attr('stroke-dasharray',dashes[l.s]);
}

panels.forEach((pn,i)=>{
  const g=svg.append('g').attr('transform',`translate(${colX[pn.col]},${rowY[pn.row]})`);
  const id='clip'+i;
  g.append('clipPath').attr('id',id).append('rect').attr('width',pw).attr('height',ph);
  const c=g.append('g').attr('clip-path',`url(#${id})`);
  c.append('rect').attr('width',pw).attr('height',ph).attr('fill','#e0e0e0');
  (pn.white||[]).forEach(w=>c.append('path').attr('d',band(w[0],w[1])).attr('fill','#fff'));
  (pn.bands||[]).forEach(b=>{
    c.append('path').attr('d',band(b.hi,b.lo)).attr('fill',b.f).attr('fill-opacity',0.92);
    if(b.e){[b.hi,b.lo].forEach(cv=>c.append('path').attr('d',lineGen(cv)).attr('fill','none').attr('stroke',b.e).attr('stroke-width',b.w||0.9));}
  });
  (pn.strokes||[]).forEach(s=>c.append('path').attr('d',lineGen(s.p)).attr('fill','none').attr('stroke',s.c).attr('stroke-width',s.w||1));
  (pn.lines||[]).forEach(l=>drawLine(c,l));
  // frame + ticks
  g.append('rect').attr('width',pw).attr('height',ph).attr('fill','none').attr('stroke','#000').attr('stroke-width',1.2);
  const tk=g.append('g').attr('stroke','#000');
  xTickExp.forEach(d=>{
    const xv=xS(Math.pow(10,d));
    tk.append('line').attr('x1',xv).attr('x2',xv).attr('y1',ph).attr('y2',ph-5).attr('stroke-width',1);
    tk.append('line').attr('x1',xv).attr('x2',xv).attr('y1',0).attr('y2',5).attr('stroke-width',1);
    if(d<6) for(let k=2;k<10;k++){const xm=xS(k*Math.pow(10,d));
      tk.append('line').attr('x1',xm).attr('x2',xm).attr('y1',ph).attr('y2',ph-2.5).attr('stroke-width',0.8);
      tk.append('line').attr('x1',xm).attr('x2',xm).attr('y1',0).attr('y2',2.5).attr('stroke-width',0.8);}
  });
  yTickExp.forEach(d=>{
    const yv=yS(Math.pow(10,d));
    tk.append('line').attr('x1',0).attr('x2',5).attr('y1',yv).attr('y2',yv).attr('stroke-width',1);
    tk.append('line').attr('x1',pw).attr('x2',pw-5).attr('y1',yv).attr('y2',yv).attr('stroke-width',1);
    if(d<-7) for(let k=2;k<10;k++){const ym=yS(k*Math.pow(10,d));
      tk.append('line').attr('x1',0).attr('x2',2.5).attr('y1',ym).attr('y2',ym).attr('stroke-width',0.8);
      tk.append('line').attr('x1',pw).attr('x2',pw-2.5).attr('y1',ym).attr('y2',ym).attr('stroke-width',0.8);}
  });
  // title
  const t=svg.append('text').attr('x',colX[pn.col]+pw/2).attr('y',rowY[pn.row]-8).attr('text-anchor','middle').attr('font-size',11.5);
  t.append('tspan').text(orderings[pn.col]+', ');
  t.append('tspan').attr('font-style','italic').text('M');
  t.append('tspan').attr('font-size',8).attr('dy',2.5).text('2');
  t.append('tspan').attr('dy',-2.5).text(' = '+massLabels[pn.row]);
  if(pn.col===0){
    yTickExp.forEach(d=>{
      const tt=g.append('text').attr('x',-3).attr('y',yS(Math.pow(10,d))+4).attr('text-anchor','end').attr('font-size',11);
      tt.append('tspan').text('10');
      tt.append('tspan').attr('font-size',8).attr('dy',-5).text(String(d).replace('-','\u2212'));
    });
    const yl=svg.append('text').attr('transform',`translate(12,${rowY[pn.row]+ph/2}) rotate(-90)`).attr('text-anchor','middle').attr('font-size',10.5);
    yl.append('tspan').text('|');
    yl.append('tspan').attr('font-style','italic').text('R');
    yl.append('tspan').attr('font-size',7.5).attr('dy',-4).text('2');
    yl.append('tspan').attr('font-size',7.5).attr('dx',-4).attr('dy',7).text('e1');
    yl.append('tspan').attr('dy',-3).text('|');
  }
  if(pn.row===3){
    xTickExp.forEach(d=>{
      const tt=g.append('text').attr('x',xS(Math.pow(10,d))).attr('y',ph+17).attr('text-anchor','middle').attr('font-size',11);
      tt.append('tspan').text('10');
      tt.append('tspan').attr('font-size',8).attr('dy',-5).text(String(d));
    });
    const xl=g.append('text').attr('x',pw/2).attr('y',ph+31).attr('text-anchor','middle').attr('font-size',11.5);
    xl.append('tspan').attr('font-style','italic').text('M');
    xl.append('tspan').attr('font-size',8).attr('dy',2.5).text('1');
    xl.append('tspan').attr('dy',-2.5).text(' [MeV]');
  }
});

// legends in first panel
const lg=svg.append('g').attr('transform',`translate(${colX[0]},${rowY[0]})`);
legendStyles.forEach((s,i)=>{
  const yy=13+i*19;
  lg.append('line').attr('x1',97).attr('x2',128).attr('y1',yy).attr('y2',yy).attr('stroke','#000')
    .attr('stroke-width',s==='dot'?2:1.6).attr('stroke-dasharray',dashes[s]);
  const tx=lg.append('text').attr('x',135).attr('y',yy+4).attr('font-size',11);
  tx.append('tspan').text('g');
  tx.append('tspan').attr('font-size',7.5).attr('dy',2.5).text('A');
  tx.append('tspan').attr('dy',-2.5).text('='+legendGA[i]+', '+legendSRC[i]);
});
lg.append('text').attr('x',8).attr('y',126).attr('font-size',10.5).text('Interpolation');
models.forEach((m,i)=>{
  const yy=135+i*16;
  lg.append('rect').attr('x',7).attr('y',yy-4.5).attr('width',9).attr('height',9).attr('fill',modelColors[i]).attr('stroke','#333').attr('stroke-width',0.4);
  lg.append('text').attr('x',19).attr('y',yy+4).attr('font-size',10.5).text(m);
});
</script></body></html>
